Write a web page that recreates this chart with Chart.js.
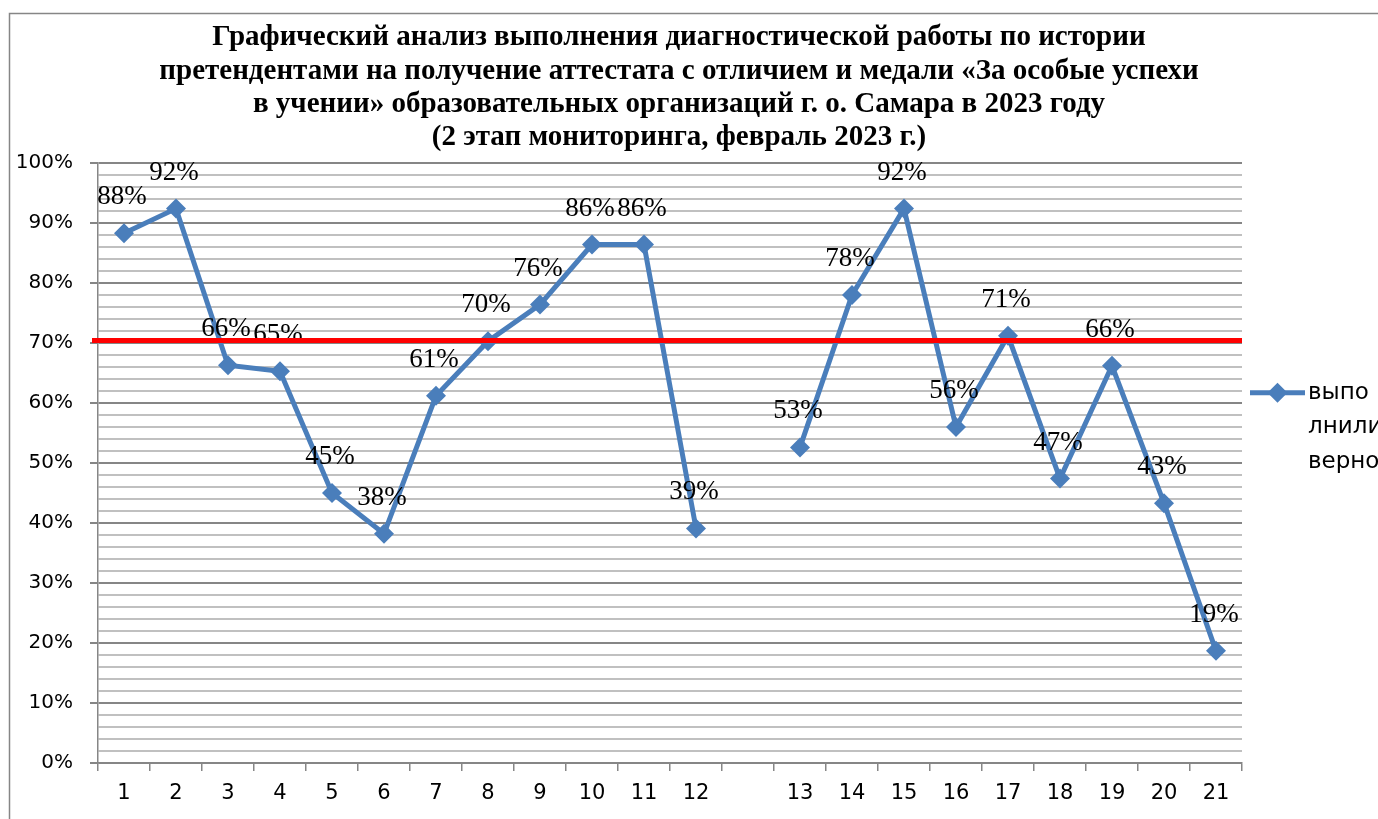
<!DOCTYPE html>
<html>
<head>
<meta charset="utf-8">
<script src="https://cdn.jsdelivr.net/npm/chart.js@4.4.0/dist/chart.umd.min.js"></script>
<style>
html,body{margin:0;padding:0;background:#fff;}
#c{display:block;}
</style>
</head>
<body>
<canvas id="c" width="1378" height="819"></canvas>
<script>
// ---- data ----
const categories = ['1','2','3','4','5','6','7','8','9','10','11','12','','13','14','15','16','17','18','19','20','21'];
const values = [88.3, 92.4, 66.3, 65.3, 45.0, 38.2, 61.2, 70.3, 76.4, 86.4, 86.4, 39.1, null, 52.6, 78.0, 92.4, 56.0, 71.2, 47.4, 66.2, 43.3, 18.7];
const targetLevel = 70.4;
const seriesName = 'выполнили верно';
const legendLines = ['выпо', 'лнили', 'верно'];
const titleLines = [
  'Графический анализ выполнения диагностической работы по истории',
  'претендентами на получение аттестата с отличием и медали «За особые успехи',
  'в учении» образовательных организаций г. о. Самара в 2023 году',
  '(2 этап мониторинга, февраль 2023 г.)'
];
const yMin = 0, yMax = 100, yStep = 2, yMajor = 10;

const BLUE = '#4A7EBB';
const GRID_MINOR = '#c0c0c0';
const GRID_MAJOR = '#868686';

const decorPlugin = {
  id: 'decor',
  beforeDraw(chart) {
    const ctx = chart.ctx;
    ctx.save();
    ctx.fillStyle = '#fff';
    ctx.fillRect(0, 0, chart.width, chart.height);
    ctx.strokeStyle = '#868686';
    ctx.lineWidth = 1.5;
    ctx.strokeRect(9.5, 13.5, 3000, 3000);
    // title
    ctx.fillStyle = '#000';
    ctx.font = 'bold 29px "Liberation Serif"';
    ctx.textAlign = 'center';
    ctx.textBaseline = 'middle';
    const tops = [38, 72, 105, 138];
    titleLines.forEach((t, i) => ctx.fillText(t, 679, tops[i]));
    ctx.restore();
  },
  afterDatasetsDraw(chart) {
    const ctx = chart.ctx;
    const meta = chart.getDatasetMeta(0);
    ctx.save();
    // data labels
    ctx.fillStyle = '#000';
    ctx.font = '27px "Liberation Serif"';
    ctx.textAlign = 'center';
    ctx.textBaseline = 'middle';
    meta.data.forEach((pt, i) => {
      const v = values[i];
      if (v === null || v === undefined) return;
      ctx.fillText(Math.round(v) + '%', pt.x - 2, pt.y - 36);
    });
    // target line
    const area = chart.chartArea;
    const y = chart.scales.y.getPixelForValue(targetLevel);
    ctx.strokeStyle = '#FF0000';
    ctx.lineWidth = 5;
    ctx.beginPath();
    ctx.moveTo(area.left - 6, y);
    ctx.lineTo(area.right, y);
    ctx.stroke();
    ctx.restore();
  },
  afterDraw(chart) {
    const ctx = chart.ctx;
    const area = chart.chartArea;
    const x0 = area.right + 8;
    const yc = chart.scales.y.getPixelForValue(61.7);
    ctx.save();
    ctx.strokeStyle = BLUE;
    ctx.lineWidth = 5;
    ctx.beginPath();
    ctx.moveTo(x0, yc);
    ctx.lineTo(x0 + 55, yc);
    ctx.stroke();
    const cx = x0 + 27.5, r = 10;
    ctx.fillStyle = BLUE;
    ctx.beginPath();
    ctx.moveTo(cx, yc - r);
    ctx.lineTo(cx + r, yc);
    ctx.lineTo(cx, yc + r);
    ctx.lineTo(cx - r, yc);
    ctx.closePath();
    ctx.fill();
    ctx.fillStyle = '#000';
    ctx.font = '23px "DejaVu Sans"';
    ctx.textAlign = 'left';
    ctx.textBaseline = 'middle';
    legendLines.forEach((t, i) => ctx.fillText(t, x0 + 58, yc + i * 34.5));
    ctx.restore();
  }
};

new Chart(document.getElementById('c'), {
  type: 'line',
  data: {
    labels: categories,
    datasets: [{
      label: seriesName,
      data: values,
      borderColor: BLUE,
      backgroundColor: BLUE,
      borderWidth: 5,
      pointStyle: 'rectRot',
      pointRadius: 10,
      pointBorderWidth: 0,
      pointBackgroundColor: BLUE,
      spanGaps: false,
      tension: 0
    }]
  },
  options: {
    responsive: false,
    animation: false,
    events: [],
    layout: { padding: { left: 0, top: 163, right: 136, bottom: 0 } },
    plugins: {
      legend: { display: false },
      title: { display: false },
      tooltip: { enabled: false }
    },
    scales: {
      x: {
        type: 'category',
        offset: true,
        grid: { offset: true, drawOnChartArea: false, drawTicks: true, tickLength: 8, color: GRID_MAJOR, lineWidth: 1.5 },
        border: { color: GRID_MAJOR, width: 1.5 },
        ticks: { font: { family: 'DejaVu Sans', size: 21 }, color: '#000', padding: 10, maxRotation: 0, autoSkip: false },
        afterFit: s => { s.height = 56; }
      },
      y: {
        min: yMin, max: yMax,
        ticks: {
          stepSize: yStep, autoSkip: false,
          font: { family: 'DejaVu Sans', size: 20 }, color: '#000', padding: 17,
          callback: v => (Math.round(v) % yMajor === 0 ? Math.round(v) + '%' : '')
        },
        grid: {
          lineWidth: 2,
          tickLength: 8,
          color: c => (Math.round(c.tick.value) % yMajor === 0 ? GRID_MAJOR : GRID_MINOR),
          tickColor: c => (Math.round(c.tick.value) % yMajor === 0 ? GRID_MAJOR : 'rgba(0,0,0,0)')
        },
        border: { color: GRID_MAJOR, width: 1.5 },
        afterFit: s => { s.width = 98; }
      }
    }
  },
  plugins: [decorPlugin]
});
</script>
</body>
</html>
